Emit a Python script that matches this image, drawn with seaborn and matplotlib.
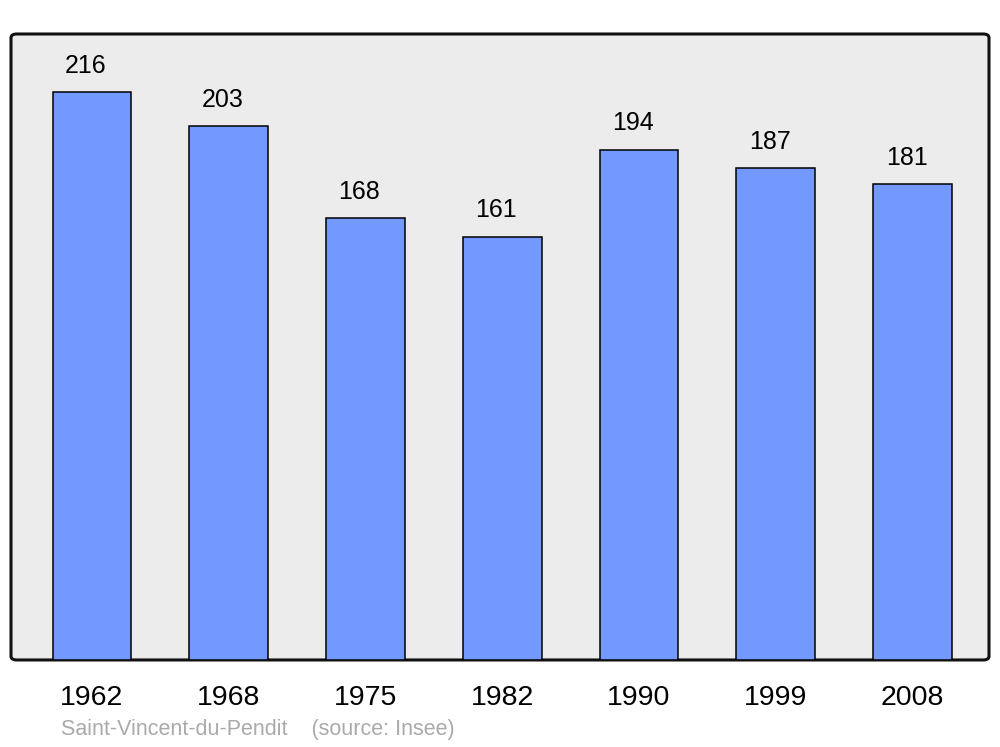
import matplotlib
matplotlib.use("Agg")
import matplotlib.pyplot as plt
from matplotlib.patches import FancyBboxPatch
import seaborn as sns
import pandas as pd

# data
years = ["1962", "1968", "1975", "1982", "1990", "1999", "2008"]
population = [216, 203, 168, 161, 194, 187, 181]
town = "Saint-Vincent-du-Pendit"
source = "(source: Insee)"

sns.set_theme(style="white")
plt.rcParams["font.family"] = ["Liberation Sans", "DejaVu Sans"]

df = pd.DataFrame({"year": years, "pop": population})

fig = plt.figure(figsize=(10, 7.47), dpi=100)
ax = fig.add_axes([0.011, 0.1165, 0.978, 0.838])

# rounded frame behind the bars
ax.patch.set_visible(False)
frame = FancyBboxPatch((0, 0), 1, 1, boxstyle="round,pad=0,rounding_size=0.006",
                       transform=ax.transAxes, facecolor="#ececec",
                       edgecolor="#111111", linewidth=2.2, zorder=0, clip_on=False)
ax.add_patch(frame)

sns.barplot(data=df, x="year", y="pop", color="#7399ff", saturation=1,
            edgecolor="black", linewidth=1.1, width=0.575, ax=ax, zorder=2)

for i, v in enumerate(population):
    ax.text(i - 0.044, v + 10.0, str(v), ha="center", va="center",
            fontsize=18, color="black")

ax.set_xlim(-0.592, 6.559)
ax.set_ylim(0, 238)
ax.set_xlabel("")
ax.set_ylabel("")
ax.set_yticks([])
for s in ax.spines.values():
    s.set_visible(False)
ax.tick_params(axis="x", length=0, pad=18, labelsize=20.5, labelcolor="black")
for lab in ax.get_xticklabels():
    lab.set_x(lab.get_position()[0])

fig.text(0.061, 1 - 730 / 747, town + "    " + source, ha="left", va="center",
         fontsize=15.5, color="#aaaaaa")

fig.savefig("out.png", dpi=100)
